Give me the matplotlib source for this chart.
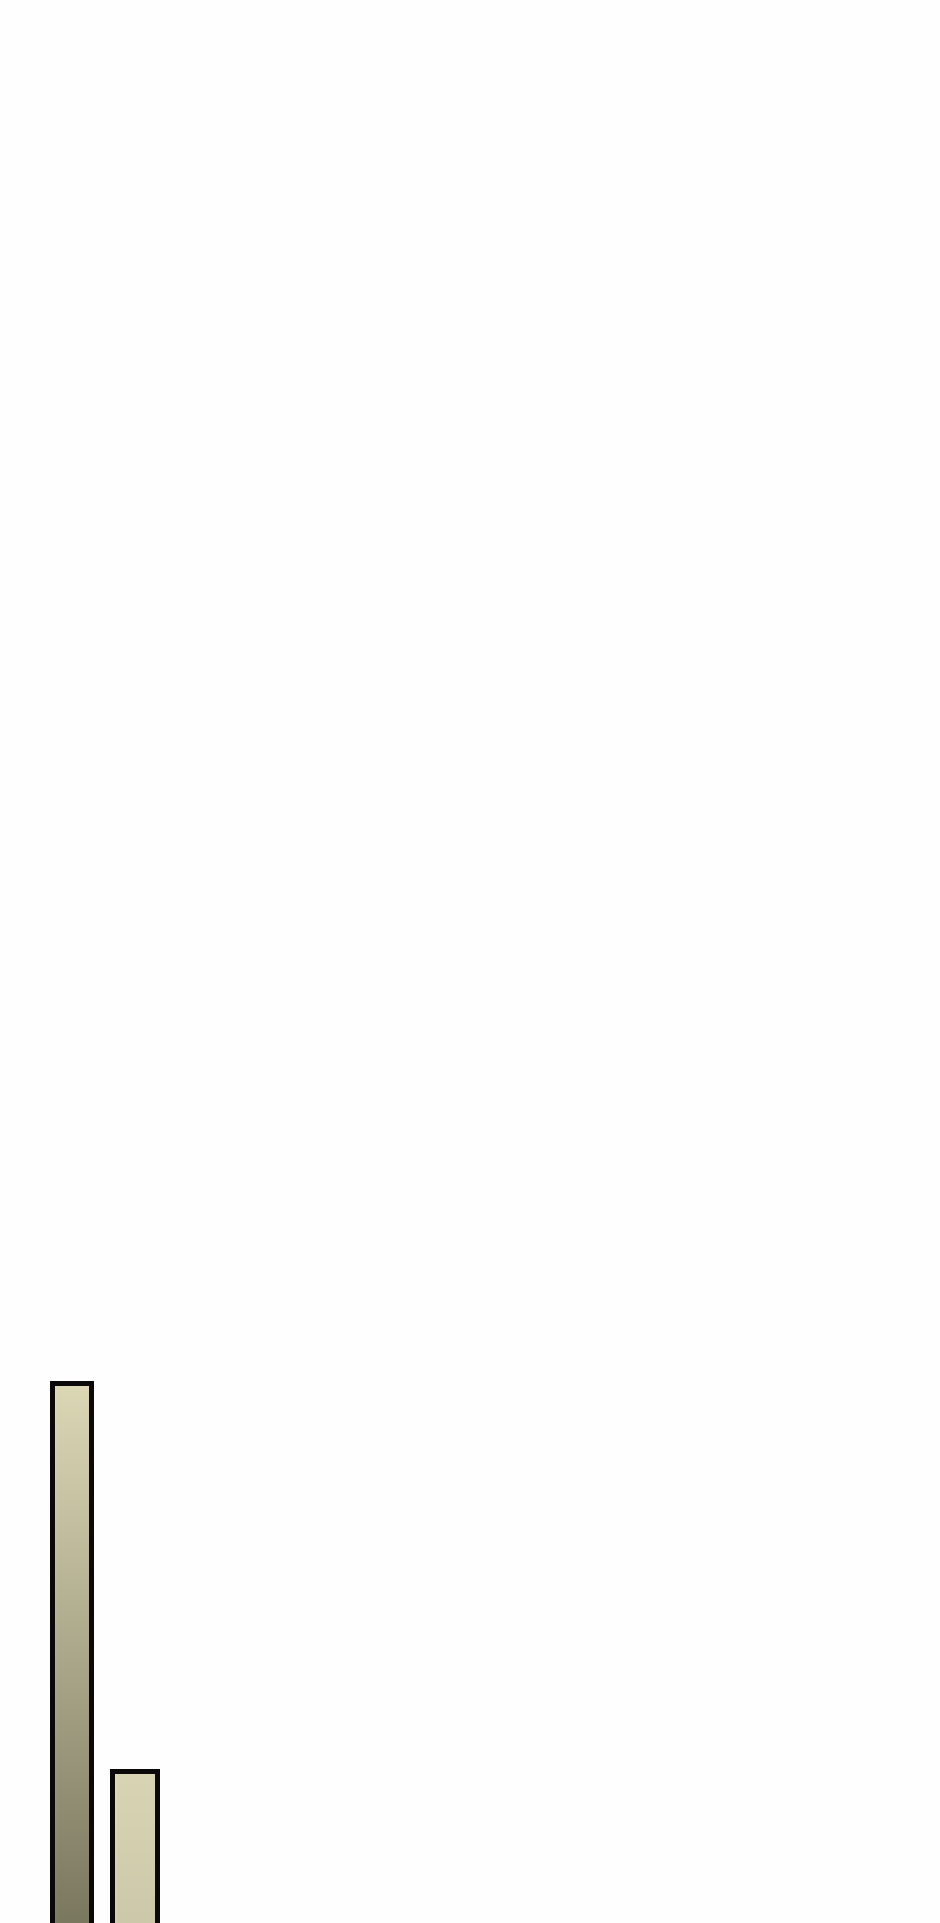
import numpy as np
import matplotlib
matplotlib.use('Agg')
import matplotlib.pyplot as plt

# data: two bars, the chart only shows their upper parts
categories = ['A', 'B']
values = [28.1, 7.9]

# colours at bar top and at the lower figure edge
top_colors = ['#dcd8b6', '#d9d5b4']
low_colors = ['#7b7860', '#ccc8a9']

x_pos = [0, 1]
widths = [0.61, 0.72]
base = -5

fig = plt.figure(figsize=(9.4, 19.23), dpi=100)
fig.patch.set_facecolor('#fefefe')
ax = fig.add_axes([0, 0, 1, 1])
ax.set_facecolor('#fefefe')
ax.axis('off')

for xp, v, w, c_top, c_low in zip(x_pos, values, widths, top_colors, low_colors):
    bar = ax.bar(xp, v - base, width=w, bottom=base, facecolor='none',
                 edgecolor='#0a0808', linewidth=3.6, zorder=3)[0]

    # vertical gradient, light at the top, dark towards the bottom
    ys = np.linspace(v, base, 400)
    top = np.array(matplotlib.colors.to_rgb(c_top))
    low = np.array(matplotlib.colors.to_rgb(c_low))
    t = np.clip((v - ys) / v, 0, 1)[:, None]
    col = top + (low - top) * t
    # slight horizontal shading
    xs = np.linspace(0, 1, 40)
    shade = 1 - 0.05 * np.exp(-((xs - 0.05) / 0.08) ** 2) * 0 + 0.04 * np.exp(-((xs - 0.04) / 0.06) ** 2)
    img = np.clip(col[:, None, :] * shade[None, :, None], 0, 1)
    im = ax.imshow(img, extent=[xp - w / 2, xp + w / 2, base, v],
                   aspect='auto', interpolation='bilinear', zorder=2)
    im.set_clip_path(bar)

# 62.5 px per category step, first bar centred at 71.5 px
ax.set_xlim(-71.5 / 62.5, -71.5 / 62.5 + 940 / 62.5)
ax.set_ylim(0, 100)

fig.savefig('out.png', dpi=100, facecolor=fig.get_facecolor())
